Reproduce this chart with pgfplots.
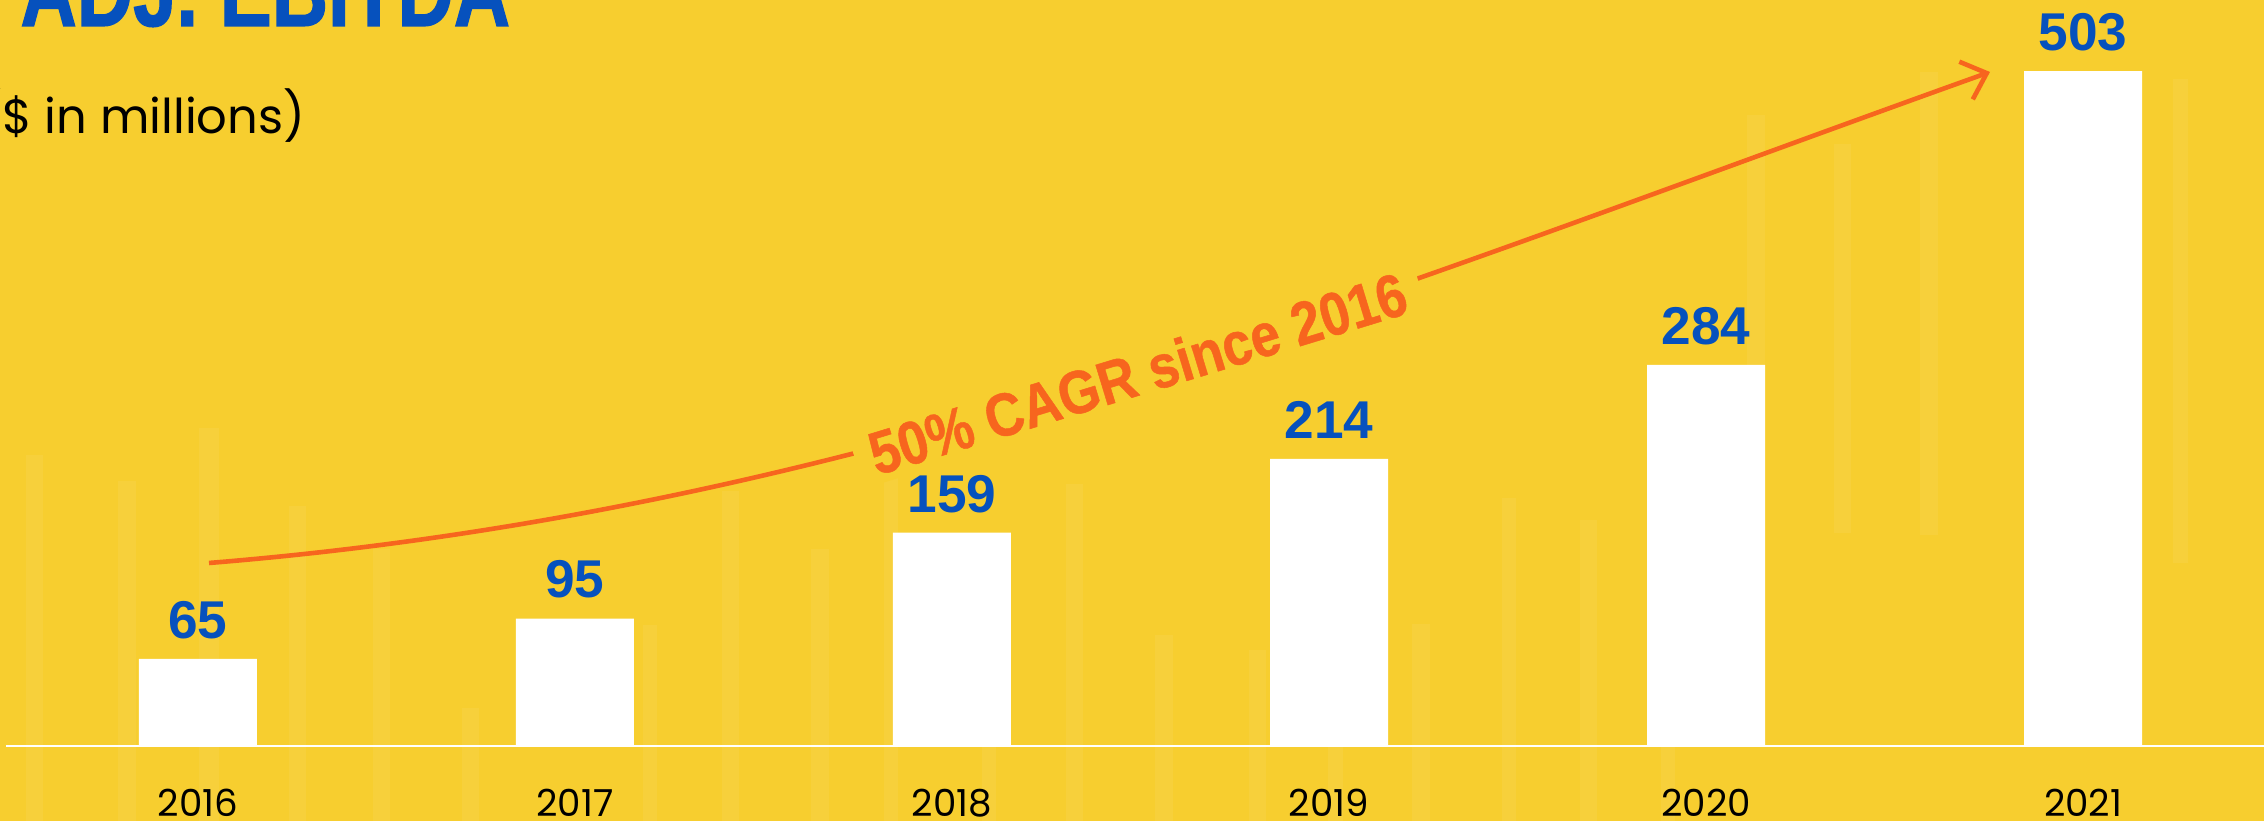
\documentclass[border=0pt]{standalone}
\usepackage{pgfplots}
\pgfplotsset{compat=1.18}
\usepackage{fontspec}
\usetikzlibrary{arrows.meta}
\setmainfont{Poppins}
\newfontfamily\numfont{Liberation Sans}
\newfontfamily\cagrfont[FakeStretch=0.87,FakeBold=0.8]{Liberation Sans}
\newfontfamily\titlefont[FakeStretch=0.78,FakeBold=1.2]{Liberation Sans}
\definecolor{bgyellow}{HTML}{F7CE2F}
\definecolor{ebblue}{HTML}{0651BD}
\definecolor{cagr}{HTML}{F7651E}

\begin{document}
\begin{tikzpicture}
\path[use as bounding box, clip] (0pt,0pt) rectangle (566pt,205.25pt);
\fill[bgyellow] (0pt,0pt) rectangle (566pt,205.25pt);

\begin{scope}[x=0.25pt, y=0.25pt]
% faint background stripes
\foreach \a/\b/\t in {26/43/366, 118/136/340, 199/219/393, 289/306/315, 373/390/272,
  462/479/113, 643/657/196, 722/739/330, 811/829/272, 884/898/345, 982/996/171,
  1066/1083/337, 1155/1173/186, 1249/1266/171, 1328/1343/147, 1412/1430/197,
  1502/1516/323, 1580/1597/301, 1661/1675/106}
  \fill[white, opacity=0.06] (\a,0) rectangle (\b,\t);
\fill[white, opacity=0.06] (1747,706) rectangle (1765,288);
\fill[white, opacity=0.06] (1834,677) rectangle (1851,288);
\fill[white, opacity=0.06] (1920,749) rectangle (1938,286);
\fill[white, opacity=0.06] (2173,742) rectangle (2188,258);
% baseline
\draw[white, line width=0.55pt] (6,75) -- (2264,75);
% title and subtitle
\node[anchor=base east, inner sep=0pt, text=ebblue,
  font=\titlefont\bfseries\fontsize{25}{25}\selectfont] at (511,795) {ADJ. EBITDA};
\node[anchor=base east, inner sep=0pt,
  font=\fontsize{12}{12}\selectfont] at (306,687) {(\$ in millions)};
\end{scope}

\begin{axis}[
  at={(0pt,18.75pt)}, anchor=south west,
  scale only axis, width=566pt, height=186.5pt,
  xmin=-0.525, xmax=5.48, ymin=0, ymax=556,
  axis line style={draw=none}, tick style={draw=none},
  /pgf/number format/assume math mode=true,
  ytick=\empty,
  xtick={0,...,5},
  xticklabels={2016,2017,2018,2019,2020,2021},
  xticklabel style={anchor=base, yshift=-13.3pt, font=\fontsize{9.3}{9.3}\selectfont},
  ybar, bar width=29.5pt,
  nodes near coords={\pgfmathprintnumber{\pgfplotspointmeta}},
  every node near coord/.append style={anchor=south, inner sep=0pt, yshift=4.8pt,
    text=ebblue, font=\numfont\bfseries\fontsize{13.3}{13.3}\selectfont},
  clip=false,
]
\addplot[fill=white, draw=none] coordinates {(0,65) (1,95) (2,159) (3,214) (4,284) (5,503)};
\end{axis}

\begin{scope}[x=0.25pt, y=0.25pt]
\draw[cagr, line width=1.15pt, -{Straight Barb[length=5.5pt, width=10pt, line width=1.15pt]}]
  (209,258) .. controls (850,310) and (1350,520) .. (1990,749);
\node[rotate=17, anchor=base, fill=bgyellow, inner xsep=4pt, inner ysep=2pt, text=cagr,
  font=\cagrfont\bfseries\fontsize{15.2}{15.2}\selectfont] at (1144,427) {50\% CAGR since 2016};
\end{scope}
\end{tikzpicture}
\end{document}
